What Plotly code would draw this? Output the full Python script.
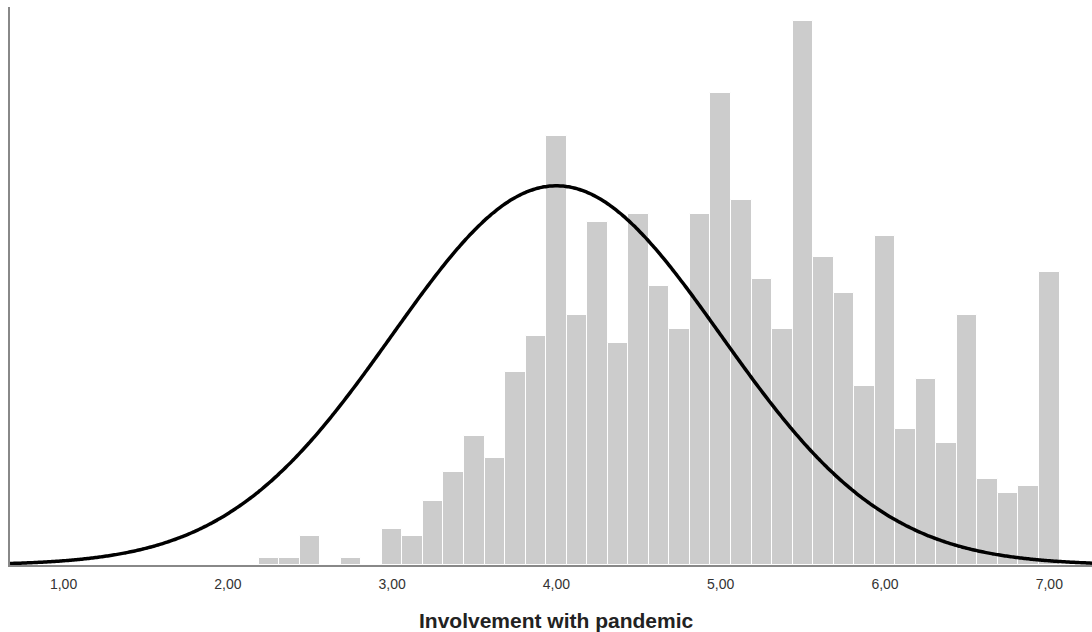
import numpy as np
import plotly.graph_objects as go

# Histogram bins (centers) and counts
bin_centers = [2.25, 2.375, 2.5, 2.625, 2.75, 2.875, 3.0, 3.125, 3.25, 3.375,
               3.5, 3.625, 3.75, 3.875, 4.0, 4.125, 4.25, 4.375, 4.5, 4.625,
               4.75, 4.875, 5.0, 5.125, 5.25, 5.375, 5.5, 5.625, 5.75, 5.875,
               6.0, 6.125, 6.25, 6.375, 6.5, 6.625, 6.75, 6.875, 7.0]
counts = [1, 1, 4, 0, 1, 0, 5, 4, 9, 13,
          18, 15, 27, 32, 60, 35, 48, 31, 49, 39,
          33, 49, 66, 51, 40, 33, 76, 43, 38, 25,
          46, 19, 26, 17, 35, 12, 10, 11, 41]
bin_width = 0.125

# Normal curve parameters
curve_mean = 4.0
curve_sd = 1.0

tick_vals = [1, 2, 3, 4, 5, 6, 7]
tick_text = ["1,00", "2,00", "3,00", "4,00", "5,00", "6,00", "7,00"]
x_title = "Involvement with pandemic"

x_min, x_max = 0.674, 7.26
y_max = 78.0

n_total = sum(counts)
xs = np.linspace(x_min, x_max, 400)
ys = n_total * bin_width / (curve_sd * np.sqrt(2 * np.pi)) * np.exp(-0.5 * ((xs - curve_mean) / curve_sd) ** 2)

fig = go.Figure()
fig.add_trace(go.Bar(
    x=bin_centers, y=counts, width=bin_width,
    marker=dict(color="#cccccc", line=dict(color="#ffffff", width=1)),
    showlegend=False, hoverinfo="x+y",
))
fig.add_trace(go.Scatter(
    x=xs, y=ys, mode="lines",
    line=dict(color="#000000", width=3.5, shape="spline"),
    showlegend=False,
))

fig.update_layout(
    width=1092, height=632,
    margin=dict(l=10, r=0, t=7, b=67),
    paper_bgcolor="#ffffff", plot_bgcolor="#ffffff",
    bargap=0,
    font=dict(family="Liberation Sans, Arial, sans-serif"),
    xaxis=dict(
        range=[x_min, x_max], tickvals=tick_vals, ticktext=tick_text,
        showgrid=False, zeroline=False, showline=True, linecolor="#888888", linewidth=1.5,
        ticks="", tickfont=dict(size=14, color="#333333"), ticklabelstandoff=5,
        automargin=False,
    ),
    yaxis=dict(
        range=[0, y_max], showgrid=False, zeroline=False, showticklabels=False,
        showline=True, linecolor="#888888", linewidth=1.5, ticks="",
    ),
    annotations=[dict(
        text="<b>" + x_title + "</b>", xref="paper", yref="paper",
        x=0.5055, y=0, xanchor="center", yanchor="middle", yshift=-55,
        showarrow=False, font=dict(size=21, color="#222222"),
    )],
)

fig.write_html("out.html", config={"displayModeBar": False},
               post_script="document.body.style.margin='0';")
